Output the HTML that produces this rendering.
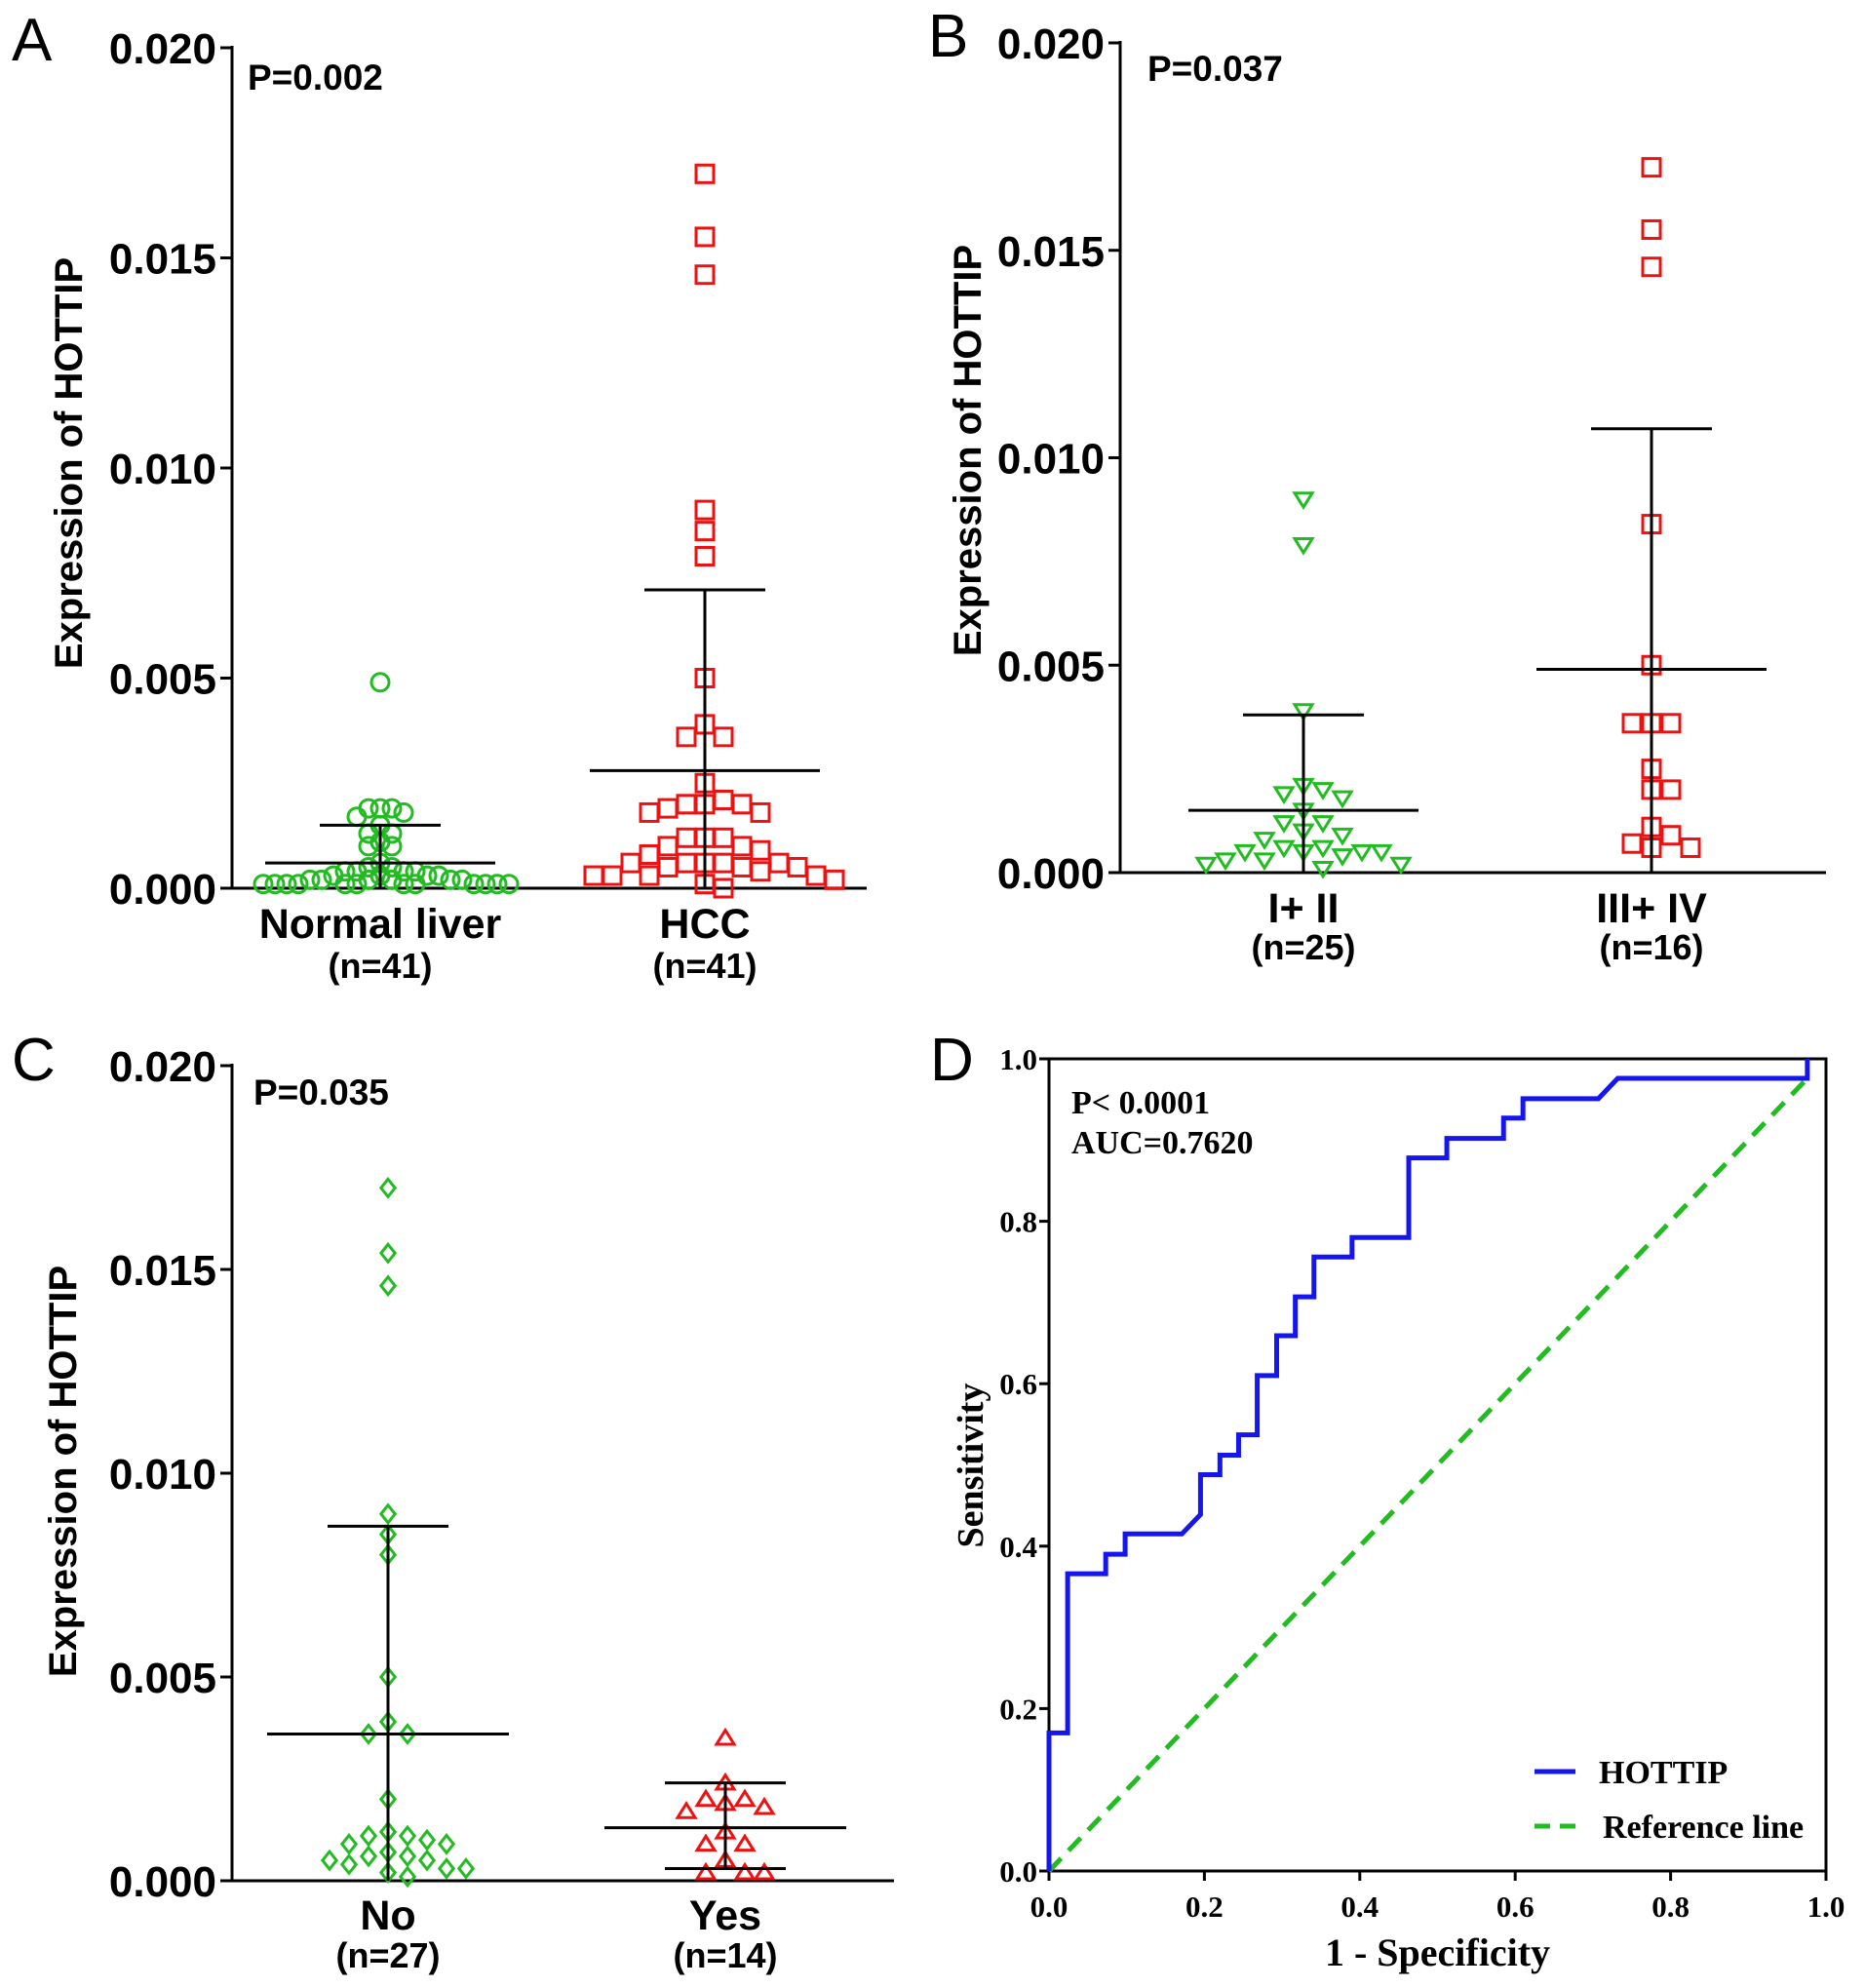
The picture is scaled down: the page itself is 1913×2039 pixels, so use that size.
<!DOCTYPE html>
<html><head><meta charset="utf-8"><style>
html,body{margin:0;padding:0;background:#fff;}
svg{display:block;}
.sans{font-family:"Liberation Sans",Arial,sans-serif;font-weight:bold;}
.serif{font-family:"Liberation Serif","Times New Roman",serif;font-weight:bold;}
</style></head><body>
<svg id="fig" width="1913" height="2039" viewBox="0 0 1913 2039" xmlns="http://www.w3.org/2000/svg"></svg>
<script>
// ---- Data ----
const yTicks = [0, 0.005, 0.010, 0.015, 0.020];
const yTickLabels = ["0.000","0.005","0.010","0.015","0.020"];
const aCategories = ["Normal liver","HCC"];
const aCounts = ["(n=41)","(n=41)"];
const aNormal = [0.0049,0.0019,0.0019,0.0019,0.0018,0.0017,0.0015,0.0013,0.0013,0.0011,0.0010,0.0010,0.0006,0.0005,0.0005,0.0004,0.0004,0.0004,0.0004,0.0003,0.0003,0.0003,0.0003,0.0002,0.0002,0.0002,0.0002,0.0002,0.0002,0.0001,0.0001,0.0001,0.0001,0.0001,0.0001,0.0001,0.0001,0.0001,0.0001,0.0001,0.0001];
const aHCC = [0.0170,0.0155,0.0146,0.0090,0.0085,0.0079,0.0050,0.0039,0.0036,0.0036,0.0025,0.0021,0.0020,0.0020,0.0020,0.0019,0.0018,0.0018,0.0012,0.0012,0.0012,0.0010,0.0010,0.0009,0.0008,0.0006,0.0006,0.0006,0.0006,0.0006,0.0005,0.0005,0.0005,0.0004,0.0003,0.0003,0.0003,0.0003,0.0002,0.0001,0.0000];
const aMean = [0.0006,0.0028];
const aSDtop = [0.0015,0.0071];
const aSDbot = [0.0000,0.0000];
const bCategories = ["I+ II","III+ IV"];
const bCounts = ["(n=25)","(n=16)"];
const bEarly = [0.0090,0.0079,0.0039,0.0021,0.0020,0.0019,0.0018,0.0015,0.0012,0.0012,0.0010,0.0009,0.0008,0.0006,0.0006,0.0005,0.0005,0.0005,0.0005,0.0004,0.0003,0.0003,0.0002,0.0002,0.0001];
const bLate = [0.0170,0.0155,0.0146,0.0084,0.0050,0.0036,0.0036,0.0036,0.0025,0.0020,0.0020,0.0011,0.0009,0.0007,0.0006,0.0006];
const bMean = [0.0015,0.0049];
const bSDtop = [0.0038,0.0107];
const bSDbot = [0.0000,0.0000];
const cCategories = ["No","Yes"];
const cCounts = ["(n=27)","(n=14)"];
const cNo = [0.0170,0.0154,0.0146,0.0090,0.0085,0.0080,0.0050,0.0039,0.0036,0.0036,0.0020,0.0012,0.0011,0.0011,0.0010,0.0009,0.0009,0.0007,0.0006,0.0006,0.0005,0.0005,0.0004,0.0003,0.0003,0.0002,0.0001];
const cYes = [0.0035,0.0024,0.0020,0.0020,0.0019,0.0018,0.0017,0.0012,0.0009,0.0009,0.0005,0.0002,0.0002,0.0002];
const cMean = [0.0036,0.0013];
const cSDtop = [0.0087,0.0024];
const cSDbot = [0.0000,0.0003];
const rocX = [0,0,0.024,0.024,0.073,0.073,0.098,0.098,0.171,0.195,0.195,0.22,0.22,0.244,0.244,0.268,0.268,0.293,0.293,0.317,0.317,0.341,0.341,0.39,0.39,0.463,0.463,0.512,0.512,0.585,0.585,0.61,0.61,0.707,0.732,0.976,0.976];
const rocY = [0,0.17,0.17,0.366,0.366,0.39,0.39,0.415,0.415,0.439,0.488,0.488,0.512,0.512,0.537,0.537,0.61,0.61,0.659,0.659,0.707,0.707,0.756,0.756,0.78,0.78,0.878,0.878,0.902,0.902,0.927,0.927,0.951,0.951,0.976,0.976,1.0];
const refX = [0,0.976];
const refY = [0,0.976];
const rocTicks = [0,0.2,0.4,0.6,0.8,1.0];
const rocTickLabels = ["0.0","0.2","0.4","0.6","0.8","1.0"];

const NS="http://www.w3.org/2000/svg";
const svg=document.getElementById('fig');
function mk(tag,attrs,parent,text){const e=document.createElementNS(NS,tag);for(const k in attrs)e.setAttribute(k,attrs[k]);if(text!==undefined)e.textContent=text;(parent||svg).appendChild(e);return e;}

function marker(g,shape,cx,cy,color){
  const s=9;let e;
  if(shape==='circle') e=mk('circle',{cx:cx,cy:cy,r:s,fill:'none',stroke:color,'stroke-width':3},g);
  else if(shape==='square') e=mk('rect',{x:cx-s,y:cy-s,width:2*s,height:2*s,fill:'none',stroke:color,'stroke-width':3},g);
  else if(shape==='tridown') e=mk('polygon',{points:`${cx-s},${cy-s*0.7} ${cx+s},${cy-s*0.7} ${cx},${cy+s*0.9}`,fill:'none',stroke:color,'stroke-width':3},g);
  else if(shape==='triup') e=mk('polygon',{points:`${cx-s},${cy+s*0.7} ${cx+s},${cy+s*0.7} ${cx},${cy-s*0.9}`,fill:'none',stroke:color,'stroke-width':3},g);
  else e=mk('polygon',{points:`${cx},${cy-s} ${cx+s*0.8},${cy} ${cx},${cy+s} ${cx-s*0.8},${cy}`,fill:'none',stroke:color,'stroke-width':3},g);
  
  
}

function swarm(vals,yfn,d){
  const placed=[];const out=[];
  vals.forEach(v=>{const y=yfn(v);let k=0,off=0;
    while(true){off=(k===0)?0:((k%2===1)?1:-1)*Math.ceil(k/2)*d;
      if(!placed.some(p=>Math.hypot(p[0]-off,p[1]-y)<d-0.5))break;k++;}
    placed.push([off,y]);out.push([off,y]);});
  return out;
}

function scatterPanel(o){
  const g=mk('g',{});
  const Y=v=>o.y0-(v/0.02)*(o.y0-o.yTop);
  mk('text',{x:o.letterX,y:o.letterY,'font-size':62,'font-family':'Liberation Sans, sans-serif'},g,o.letter);
  mk('line',{x1:o.ax,y1:o.yTop-2,x2:o.ax,y2:o.y0+1.5,stroke:'#000','stroke-width':3},g);
  mk('line',{x1:o.ax-12,y1:o.y0,x2:o.xEnd,y2:o.y0,stroke:'#000','stroke-width':3},g);
  yTicks.forEach((t,i)=>{const y=Y(t);
    mk('line',{x1:o.ax-12,y1:y,x2:o.ax,y2:y,stroke:'#000','stroke-width':3},g);
    const tl=mk('text',{x:o.ax-16,y:y+16,'text-anchor':'end','font-size':44,class:'sans'},g,yTickLabels[i]);
    });
  const yt=mk('text',{x:0,y:0,'text-anchor':'middle','font-size':40,class:'sans',transform:`translate(${o.titleX},${o.titleY}) rotate(-90)`},g,'Expression of HOTTIP');
  
  mk('text',{x:o.pX,y:o.pY,'font-size':37,class:'sans'},g,o.p);
  o.groups.forEach((grp,i)=>{
    const cx=o.cx[i];
    const pts=swarm(grp.vals,Y,grp.d);
    pts.forEach(p=>marker(g,grp.shape,cx+p[0],p[1],grp.color));
    const w=o.meanW[i],w2=o.sdW[i];
    const ln=(x1,y1,x2,y2,n)=>{const e=mk('line',{x1,y1,x2,y2,stroke:'#000','stroke-width':3},g);};
    ln(cx,Y(o.sdTop[i]),cx,Y(o.sdBot[i]),'error-bar');
    ln(cx-w2,Y(o.sdTop[i]),cx+w2,Y(o.sdTop[i]),'sd-cap');
    if(o.sdBot[i]>0) ln(cx-w2,Y(o.sdBot[i]),cx+w2,Y(o.sdBot[i]),'sd-cap');
    ln(cx-w,Y(o.mean[i]),cx+w,Y(o.mean[i]),'mean-line');
    mk('text',{x:cx,y:o.catY,'text-anchor':'middle','font-size':43,class:'sans'},g,o.cats[i]);
    mk('text',{x:cx,y:o.cntY,'text-anchor':'middle','font-size':36,class:'sans'},g,o.counts[i]);
  });
}

scatterPanel({name:'panel-a',letter:'A',letterX:12,letterY:62,ax:238,yTop:49,y0:911,xEnd:889,titleX:84,titleY:475,pX:254,pY:92,p:'P=0.002',
  cx:[390,723],meanW:[118,118],sdW:[62,62],mean:aMean,sdTop:aSDtop,sdBot:aSDbot,cats:aCategories,counts:aCounts,catY:962,cntY:1003,
  groups:[{vals:aNormal,shape:'circle',color:'#22bb22',d:12},{vals:aHCC,shape:'square',color:'#ee1111',d:19}]});
scatterPanel({name:'panel-b',letter:'B',letterX:952,letterY:58,ax:1149,yTop:44,y0:895,xEnd:1873,titleX:1006,titleY:462,pX:1177,pY:83,p:'P=0.037',
  cx:[1337,1694],meanW:[118,118],sdW:[62,62],mean:bMean,sdTop:bSDtop,sdBot:bSDbot,cats:bCategories,counts:bCounts,catY:946,cntY:984,
  groups:[{vals:bEarly,shape:'tridown',color:'#22bb22',d:20},{vals:bLate,shape:'square',color:'#ee1111',d:20}]});
scatterPanel({name:'panel-c',letter:'C',letterX:12,letterY:1108,ax:238,yTop:1093,y0:1929,xEnd:917,titleX:78,titleY:1509,pX:260,pY:1133,p:'P=0.035',
  cx:[398,744],meanW:[124,124],sdW:[62,62],mean:cMean,sdTop:cSDtop,sdBot:cSDbot,cats:cCategories,counts:cCounts,catY:1979,cntY:2018,
  groups:[{vals:cNo,shape:'diamond',color:'#22bb22',d:20},{vals:cYes,shape:'triup',color:'#ee1111',d:20}]});

// ---- Panel D ROC ----
(function(){
  const g=mk('g',{});
  const L=1076,R=1873,T=1086,B=1919;
  const X=v=>L+v*(R-L), Y=v=>B-v*(B-T);
  mk('text',{x:954,y:1108,'font-size':62,'font-family':'Liberation Sans, sans-serif'},g,'D');
  mk('rect',{x:L,y:T,width:R-L,height:B-T,fill:'none',stroke:'#000','stroke-width':3},g);
  rocTicks.forEach((t,i)=>{
    mk('line',{x1:L-10,y1:Y(t),x2:L,y2:Y(t),stroke:'#000','stroke-width':3},g);
    mk('line',{x1:X(t),y1:B,x2:X(t),y2:B+10,stroke:'#000','stroke-width':3},g);
    mk('text',{x:L-12,y:Y(t)+11,'text-anchor':'end','font-size':31,class:'serif'},g,rocTickLabels[i]);
    mk('text',{x:X(t),y:1966,'text-anchor':'middle','font-size':31,class:'serif'},g,rocTickLabels[i]);
  });
  mk('text',{x:(L+R)/2,y:2016,'text-anchor':'middle','font-size':40,class:'serif'},g,'1 - Specificity');
  mk('text',{x:0,y:0,'text-anchor':'middle','font-size':38,class:'serif',transform:`translate(1008,1503) rotate(-90)`},g,'Sensitivity');
  const ref=mk('polyline',{points:refX.map((x,i)=>X(x)+','+Y(refY[i])).join(' '),fill:'none',stroke:'#22bb22','stroke-width':5,'stroke-dasharray':'18,11'},g);
  
  const roc=mk('polyline',{points:rocX.map((x,i)=>X(x)+','+Y(rocY[i])).join(' '),fill:'none',stroke:'#1515ee','stroke-width':5},g);
  
  mk('text',{x:1099,y:1142,'font-size':34,class:'serif'},g,'P< 0.0001');
  mk('text',{x:1099,y:1183,'font-size':34,class:'serif'},g,'AUC=0.7620');
  mk('line',{x1:1574,y1:1817,x2:1616,y2:1817,stroke:'#1515ee','stroke-width':5},g);
  mk('text',{x:1640,y:1829,'font-size':34,class:'serif'},g,'HOTTIP');
  mk('line',{x1:1574,y1:1873,x2:1620,y2:1873,stroke:'#22bb22','stroke-width':5,'stroke-dasharray':'16,10'},g);
  mk('text',{x:1644,y:1885,'font-size':34,class:'serif'},g,'Reference line');
})();
</script>
</body></html>
